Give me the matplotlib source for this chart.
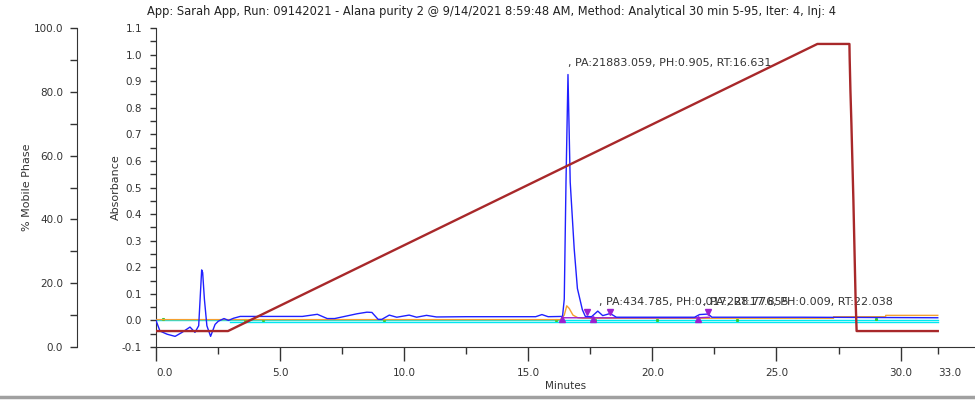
import numpy as np
import matplotlib
matplotlib.use("Agg")
import matplotlib.pyplot as plt
from matplotlib.lines import Line2D

# chromatogram data (minutes, absorbance)
blue_t = [0.0, 0.16, 0.45, 0.77, 1.05, 1.37, 1.57, 1.72, 1.80, 1.84, 1.88, 1.95, 2.05, 2.2,
          2.38, 2.51, 2.74, 2.92, 3.12, 3.39, 4.5, 5.9, 6.2, 6.5, 6.9, 7.2, 7.8, 8.1, 8.5,
          8.7, 8.95, 9.1, 9.4, 9.7, 10.2, 10.5, 10.9, 11.3, 12.5, 13.2, 15.3, 15.55, 15.8,
          16.38, 16.45, 16.52, 16.6, 16.69, 16.85, 16.98, 17.18, 17.3, 17.55, 17.8, 18.0,
          18.3, 18.55, 20.0, 21.7, 21.9, 22.25, 22.4, 26.0, 31.5]
blue_v = [0.0, -0.04, -0.052, -0.06, -0.045, -0.025, -0.045, -0.02, 0.12, 0.19, 0.18, 0.08,
          -0.02, -0.06, -0.015, -0.003, 0.007, 0.0, 0.008, 0.015, 0.015, 0.015, 0.019, 0.023,
          0.007, 0.007, 0.019, 0.025, 0.031, 0.03, 0.004, 0.004, 0.02, 0.012, 0.02, 0.012,
          0.019, 0.013, 0.014, 0.014, 0.014, 0.022, 0.014, 0.015, 0.08, 0.52, 0.925, 0.52,
          0.27, 0.12, 0.04, 0.015, 0.014, 0.035, 0.018, 0.026, 0.012, 0.012, 0.012, 0.022,
          0.024, 0.012, 0.012, 0.01]

orange_t = [0.0, 16.3, 16.45, 16.55, 16.65, 16.8, 17.0, 17.2, 27.3, 27.3, 29.4, 29.4, 31.5]
orange_v = [0.003, 0.003, 0.02, 0.055, 0.045, 0.02, 0.01, 0.008, 0.008, 0.014, 0.014, 0.019, 0.019]

cyan_t = [0.0, 31.5]
cyan_v = [0.0, 0.0]
cyan2_t = [3.0, 31.5]
cyan2_v = [-0.006, -0.006]

green_t = [0.3, 3.6, 4.3, 9.2, 16.1, 17.7, 20.2, 23.4, 29.0]
green_v = [0.004, 0.003, 0.002, 0.003, 0.003, 0.003, 0.003, 0.002, 0.004]

purple_t = [16.35, 17.6, 21.85, 22.3]
purple_v = [0.01, 0.01, 0.01, 0.012]

start_t = [16.35, 17.6, 21.85]
start_v = [0.004, 0.004, 0.004]
end_t = [17.35, 18.3, 22.25]
end_v = [0.03, 0.03, 0.03]

# mobile phase gradient (minutes, %B)
grad_t = [0.0, 2.9, 26.65, 27.94, 27.95, 27.98, 28.02, 28.10, 28.19, 28.23, 31.5]
grad_v = [5, 5, 95, 95, 90.5, 80.5, 70, 46, 14.5, 5, 5]

peak_labels = [", PA:21883.059, PH:0.905, RT:16.631",
               ", PA:434.785, PH:0.017, RT:17.855",
               ", PA:228.776, PH:0.009, RT:22.038"]
label_t = [16.62, 17.86, 22.05]
label_v = [0.97, 0.07, 0.068]

title = ("App: Sarah App, Run: 09142021 - Alana purity 2 @ 9/14/2021 8:59:48 AM, "
         "Method: Analytical 30 min 5-95, Iter: 4, Inj: 4")

txt = "#333333"
plt.rcParams['font.family'] = ['DejaVu Sans']
plt.rcParams['font.size'] = 7.5

fig = plt.figure(figsize=(9.75, 4), dpi=100)
ax = fig.add_axes([156 / 975, 1 - 347 / 400, 1 - 156 / 975, (347 - 28) / 400])
ax2 = ax.twinx()

ax.plot(cyan_t, cyan_v, color="#00e8f0", lw=1.0, zorder=2)
ax.plot(cyan2_t, cyan2_v, color="#00e8f0", lw=1.0, zorder=2)
ax.plot(green_t, green_v, ls="none", marker="s", ms=1.2, color="#33cc33", zorder=2)
ax.plot(orange_t, orange_v, color="#f5a030", lw=1.0, zorder=3)
ax.plot(purple_t, purple_v, color="#9b20d0", lw=1.0, zorder=3)
ax.plot(blue_t, blue_v, color="#2020ff", lw=1.0, zorder=4)
ax.plot(start_t, start_v, ls="none", marker="^", ms=5, color="#9b20d0", zorder=5)
ax.plot(end_t, end_v, ls="none", marker="v", ms=5, color="#9b20d0", zorder=5)

for s, t, v in zip(peak_labels, label_t, label_v):
    ax.text(t, v, s, fontsize=8, color=txt, ha="left", va="center", zorder=6)

ax2.plot(grad_t, grad_v, color="#a8282a", lw=1.7, zorder=3)

ax.set_xlim(0, 33.0)
ax.set_ylim(-0.1, 1.1)
ax2.set_ylim(0, 100)

ax.set_xticks(np.arange(0, 31, 5))
ax.set_xticklabels(["%.1f" % v for v in np.arange(0, 31, 5)])
minor_x = list(np.arange(2.5, 30, 5)) + [31.5]
ax.set_xticks(minor_x, minor=True)
ax.set_xticklabels([""] * (len(minor_x) - 1) + ["33.0"], minor=True)
ax.tick_params(axis="x", which="major", length=10, width=1, color=txt, labelcolor=txt, pad=5)
ax.tick_params(axis="x", which="minor", length=5, width=1, color=txt, labelcolor=txt, pad=10)
ax.xaxis.get_major_ticks()[0].label1.set_horizontalalignment("left")
ax.xaxis.get_minor_ticks()[-1].label1.set_horizontalalignment("left")

yt = np.round(np.arange(-0.1, 1.11, 0.1), 1)
ax.set_yticks(yt)
ax.set_yticklabels(["%.1f" % v for v in yt])
ax.set_yticks(np.arange(-0.05, 1.1, 0.1), minor=True)
ax.tick_params(axis="y", which="both", length=4, width=1, color=txt, labelcolor=txt, pad=6)

ax2.yaxis.set_ticks_position("left")
ax2.yaxis.set_label_position("left")
ax2.spines["left"].set_position(("outward", 79 * 0.72))
ax2.set_yticks(np.arange(0, 101, 20))
ax2.set_yticklabels(["%.1f" % v for v in np.arange(0, 101, 20)])
ax2.set_yticks(np.arange(10, 100, 20), minor=True)
ax2.tick_params(axis="y", which="both", length=5, width=1, color=txt, labelcolor=txt, pad=5)

for a in (ax, ax2):
    for side in ("top", "right"):
        a.spines[side].set_visible(False)
ax2.spines["bottom"].set_visible(False)
ax.spines["left"].set_color(txt)
ax.spines["bottom"].set_color(txt)
ax2.spines["left"].set_color(txt)
ax2.spines["left"].set_bounds(0, 100)

ax.set_xlabel("Minutes", color=txt, labelpad=2)
ax.set_ylabel("Absorbance", color=txt, fontsize=8, labelpad=0.5)
ax2.set_ylabel("% Mobile Phase", color=txt, fontsize=8, labelpad=1)

fig.text(491 / 975, 1 - 12 / 400, title, ha="center", va="center", fontsize=8.3, color="#222222")
fig.add_artist(Line2D([0, 1], [1 - 397 / 400] * 2, color="#a0a0a0", lw=2.5))

fig.savefig("out.png", dpi=100)
